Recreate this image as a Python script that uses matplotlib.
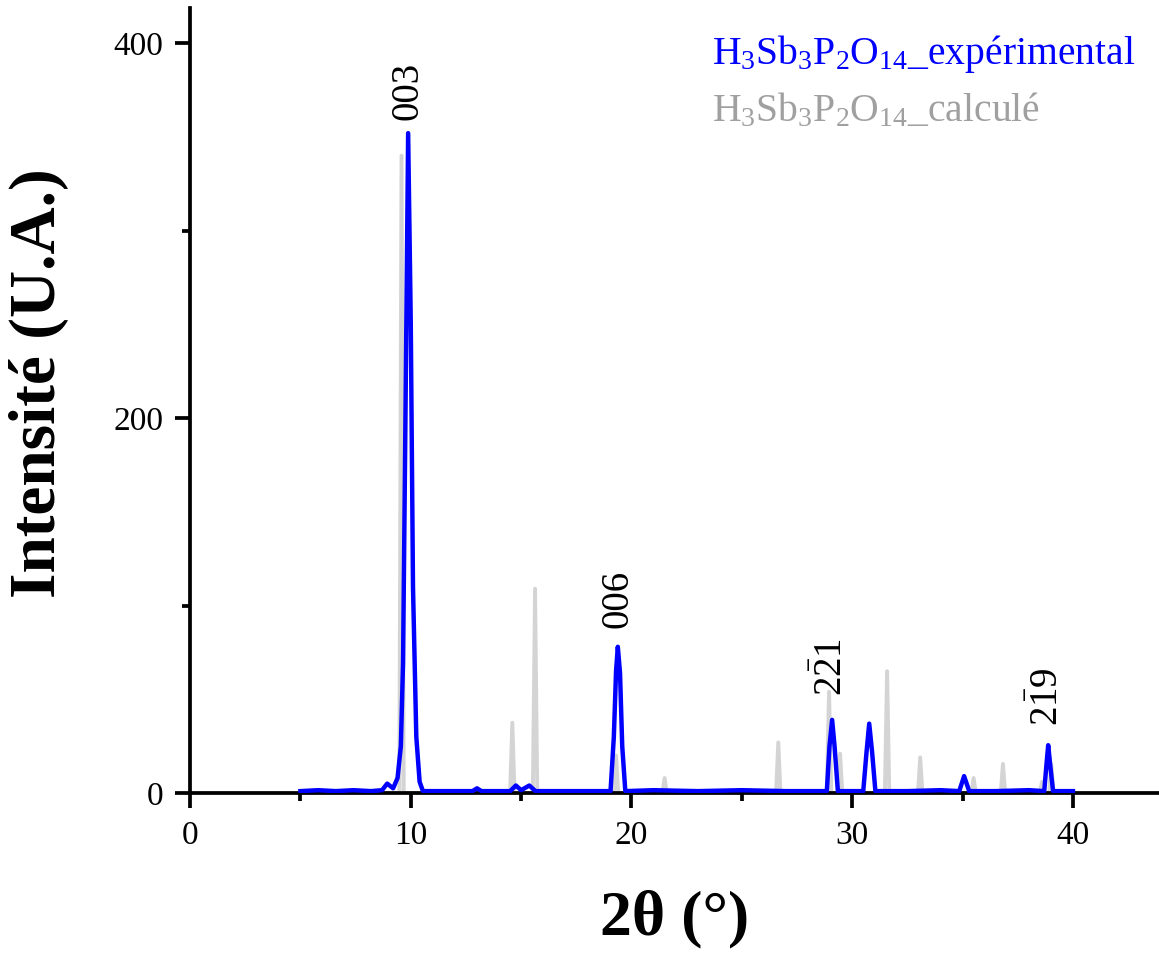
import numpy as np
import matplotlib
matplotlib.use('Agg')
import matplotlib.pyplot as plt
from matplotlib.ticker import MultipleLocator

plt.rcParams['font.family'] = ['Liberation Serif', 'DejaVu Serif']
plt.rcParams['mathtext.fontset'] = 'custom'
plt.rcParams['mathtext.rm'] = 'Liberation Serif'
plt.rcParams['mathtext.it'] = 'Liberation Serif:italic'
plt.rcParams['mathtext.bf'] = 'Liberation Serif:bold'

fig_name = "out.png"

##################### DATA #################################################
# experimental pattern (blue)
exp_x = [5.0, 5.8, 6.6, 7.4, 8.2, 8.7, 8.93, 9.2, 9.4, 9.55, 9.65, 9.75, 9.88,
         10.0, 10.1, 10.25, 10.4, 10.55, 11.5, 12.8, 13.0, 13.2, 14.5, 14.76,
         15.0, 15.37, 15.65, 16.8, 18.0, 19.05, 19.2, 19.3, 19.38, 19.48, 19.58,
         19.72, 21.0, 23.0, 25.0, 27.0, 28.85, 28.97, 29.09, 29.2, 29.35, 30.5,
         30.65, 30.77, 30.9, 31.05, 32.5, 34.0, 34.85, 35.07, 35.3, 36.5, 38.0,
         38.7, 38.8, 38.88, 38.97, 39.1, 40.0]
exp_y = [1.0, 1.5, 1.0, 1.5, 1.0, 1.5, 5.0, 2.5, 8.0, 25.0, 70.0, 190.0, 352.0,
         250.0, 110.0, 30.0, 6.0, 1.0, 1.0, 1.0, 2.5, 1.0, 1.0, 4.0,
         1.5, 4.0, 1.0, 1.0, 1.0, 1.0, 30.0, 65.0, 78.0, 64.0, 25.0,
         1.0, 1.5, 1.0, 1.5, 1.0, 1.0, 25.0, 39.0, 25.0, 1.0, 1.0,
         22.0, 37.0, 22.0, 1.0, 1.0, 1.5, 1.0, 9.0, 1.0, 1.0, 1.5,
         1.0, 15.0, 25.5, 15.0, 1.0, 1.0]

# calculated pattern (grey): peak positions and heights
calc_pos = [9.58, 14.6, 15.63, 19.3, 21.5, 26.65, 28.95, 29.45, 31.58, 33.08,
            35.5, 36.83, 38.6, 39.02]
calc_int = [340, 37.5, 109, 20, 8, 27, 54, 21, 65, 19, 8, 15.5, 6, 15.5]

# hkl labels
hkl_text = ['003', '006', r'$2\bar{2}1$', r'$2\bar{1}9$']
hkl_x = [9.88, 19.4, 29.1, 38.9]
hkl_y = [359, 88, 52, 36]

# grey stick-like profile built from the peak list (triangles on zero base)
calc_x = [5.0]
calc_y = [0.0]
for p, h in zip(calc_pos, calc_int):
    calc_x += [p - 0.1, p, p + 0.1]
    calc_y += [0.0, h, 0.0]
calc_x.append(40.0)
calc_y.append(0.0)

########################### PLOT ###########################################
fig = plt.figure(figsize=(11.59, 9.56), dpi=100)
ax = fig.add_axes([0.164, 0.1705, 0.836, 0.821])

ax.plot(calc_x, calc_y, color='#d4d4d4', lw=2.8, zorder=2)
ax.plot(exp_x, exp_y, color='#0000ff', lw=3.2, zorder=3)

for t, x, y in zip(hkl_text, hkl_x, hkl_y):
    ax.text(x, y, t, rotation=90, ha='center', va='bottom', fontsize=28)

ax.text(0.539, 0.968, r'H$_3$Sb$_3$P$_2$O$_{14}$_expérimental', color='#0000ff',
        fontsize=28.5, transform=ax.transAxes, ha='left', va='top')
ax.text(0.539, 0.894, r'H$_3$Sb$_3$P$_2$O$_{14}$_calculé', color='#a0a0a0',
        fontsize=28.5, transform=ax.transAxes, ha='left', va='top')

# axes
ax.set_xlim(0, 43.9)
ax.set_ylim(0, 418.7)
ax.xaxis.set_major_locator(MultipleLocator(10))
ax.xaxis.set_minor_locator(MultipleLocator(5))
ax.yaxis.set_major_locator(MultipleLocator(200))
ax.yaxis.set_minor_locator(MultipleLocator(100))
for s in ['top', 'right']:
    ax.spines[s].set_visible(False)
for s in ['left', 'bottom']:
    ax.spines[s].set_linewidth(2.7)
ax.tick_params(which='major', direction='out', length=11, width=2.7, labelsize=24)
ax.tick_params(which='minor', direction='out', length=5.5, width=2.7)
ax.tick_params(axis='x', which='major', pad=9)
ax.tick_params(axis='y', which='major', pad=8)

ax.set_xlabel('2θ (°)', fontsize=46, fontweight='bold', labelpad=28)
ax.set_ylabel('Intensité (U.A.)', fontsize=47, fontweight='bold')
ax.yaxis.set_label_coords(-0.125, 0.522)

plt.savefig(fig_name, dpi=100, facecolor='w')
